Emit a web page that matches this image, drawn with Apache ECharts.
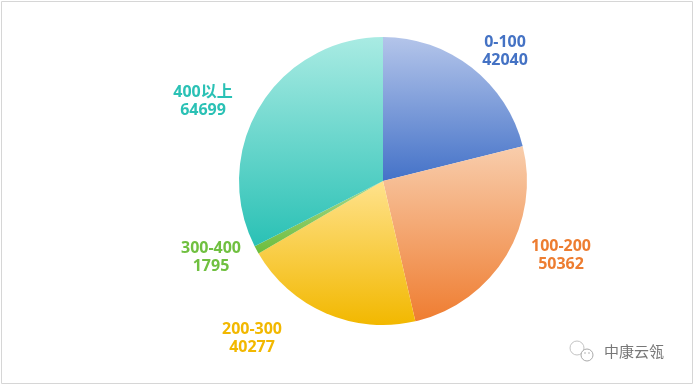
<!DOCTYPE html>
<html>
<head>
<meta charset="utf-8">
<style>
  html, body { margin: 0; padding: 0; background: #fff; }
  #main { width: 693px; height: 384px; }
</style>
<script src="https://cdn.jsdelivr.net/npm/echarts@6/dist/echarts.min.js"></script>
</head>
<body>
<div id="main"></div>
<script>
const categories = ["0-100", "100-200", "200-300", "300-400", "400以上"];
const counts = [42040, 50362, 40277, 1795, 64699];
const topColors = ["#b4c5ea", "#f8cdac", "#ffe28c", "#a9d88e", "#a9ebe3"];
const bottomColors = ["#4472c8", "#ef7d31", "#f2b800", "#6cbd3c", "#2ac1b5"];
const labelColors = ["#4472c4", "#ed7d31", "#f2b800", "#70c040", "#2ac1b5"];
// label centres
const labelX = [505, 561, 252, 211, 203];
const labelY = [51, 255, 338, 257, 101];

const chart = echarts.init(document.getElementById("main"));

const pieData = categories.map((name, i) => ({
  name: name,
  value: counts[i],
  itemStyle: {
    color: new echarts.graphic.LinearGradient(0, 0, 0, 1, [
      { offset: 0, color: topColors[i] },
      { offset: 1, color: bottomColors[i] }
    ])
  },
  label: { color: labelColors[i] }
}));

chart.setOption({
  animation: false,
  backgroundColor: "#fff",
  graphic: [
    {
      type: "rect",
      shape: { x: 1.5, y: 1.5, width: 691, height: 382 },
      style: { fill: "none", stroke: "#d6d6d6", lineWidth: 1 }
    },
    {
      type: "text",
      left: 604,
      top: 344,
      style: { text: "中康云瓴", fill: "#777", font: '15px "Noto Sans CJK SC"' }
    },
    // wechat mark
    { type: "circle", shape: { cx: 577, cy: 348, r: 7 }, style: { fill: "none", stroke: "#c4c4c4", lineWidth: 1 } },
    { type: "circle", shape: { cx: 587, cy: 355, r: 6 }, style: { fill: "#fff", stroke: "#aaa", lineWidth: 1 } },
    { type: "circle", shape: { cx: 585, cy: 353, r: 0.8 }, style: { fill: "#aaa" } },
    { type: "circle", shape: { cx: 589, cy: 353, r: 0.8 }, style: { fill: "#aaa" } }
  ],
  series: [
    {
      type: "pie",
      center: [383, 181],
      radius: [0, 144],
      startAngle: 90,
      clockwise: true,
      data: pieData,
      label: {
        show: true,
        position: "outside",
        formatter: "{b}\n{c}",
        fontFamily: '"Open Sans", "Noto Sans CJK SC", sans-serif',
        fontSize: 16,
        fontWeight: 700,
        lineHeight: 18,
        align: "center",
        verticalAlign: "middle"
      },
      labelLine: { show: false },
      labelLayout: function (params) {
        return {
          x: labelX[params.dataIndex],
          y: labelY[params.dataIndex],
          align: "center",
          verticalAlign: "middle"
        };
      }
    }
  ]
});
</script>
</body>
</html>
